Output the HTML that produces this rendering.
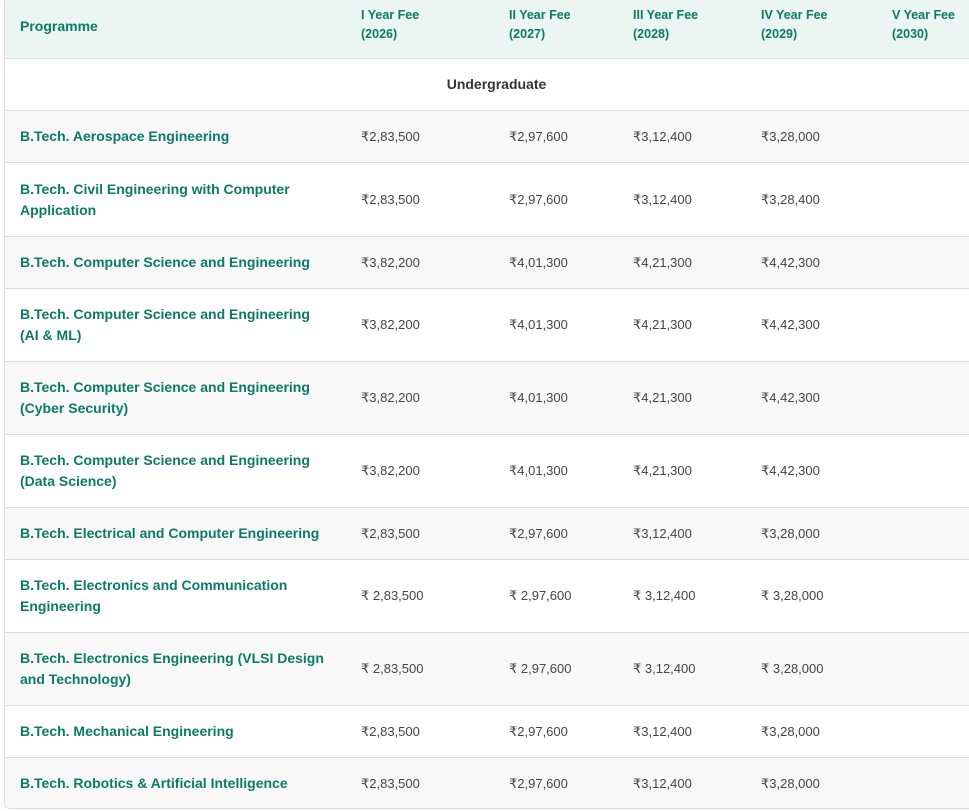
<!DOCTYPE html>
<html><head><meta charset="utf-8"><style>
*{box-sizing:border-box;margin:0;padding:0}
body{width:969px;height:811px;background:#fff;font-family:"Liberation Sans","DejaVu Sans",sans-serif;overflow:hidden;position:relative}
#tbl{position:absolute;left:4px;top:-3px;width:980px;height:812px;border:1px solid #ddd;border-radius:6px;overflow:hidden}
.row{position:absolute;left:0;width:100%;border-bottom:1px solid #dcdcdc}
.cell{position:absolute;top:0;height:100%;display:flex;align-items:center}
.prog{left:15px;width:312px;color:#0b7a68;font-weight:bold;font-size:14px;line-height:21px}
.val{color:#444;font-size:13px}
.hd{color:#0b7a68;font-weight:bold;font-size:12.5px;line-height:19px}
</style></head><body>
<div id="tbl"></div>
<script>
const headers=["Programme","I Year Fee<br>(2026)","II Year Fee<br>(2027)","III Year Fee<br>(2028)","IV Year Fee<br>(2029)","V Year Fee<br>(2030)"];
const programmes=["B.Tech. Aerospace Engineering","B.Tech. Civil Engineering with Computer Application","B.Tech. Computer Science and Engineering","B.Tech. Computer Science and Engineering (AI &amp; ML)","B.Tech. Computer Science and Engineering (Cyber Security)","B.Tech. Computer Science and Engineering (Data Science)","B.Tech. Electrical and Computer Engineering","B.Tech. Electronics and Communication Engineering","B.Tech. Electronics Engineering (VLSI Design and Technology)","B.Tech. Mechanical Engineering","B.Tech. Robotics &amp; Artificial Intelligence"];
const fees=[
["₹2,83,500","₹2,97,600","₹3,12,400","₹3,28,000"],
["₹2,83,500","₹2,97,600","₹3,12,400","₹3,28,400"],
["₹3,82,200","₹4,01,300","₹4,21,300","₹4,42,300"],
["₹3,82,200","₹4,01,300","₹4,21,300","₹4,42,300"],
["₹3,82,200","₹4,01,300","₹4,21,300","₹4,42,300"],
["₹3,82,200","₹4,01,300","₹4,21,300","₹4,42,300"],
["₹2,83,500","₹2,97,600","₹3,12,400","₹3,28,000"],
["₹ 2,83,500","₹ 2,97,600","₹ 3,12,400","₹ 3,28,000"],
["₹ 2,83,500","₹ 2,97,600","₹ 3,12,400","₹ 3,28,000"],
["₹2,83,500","₹2,97,600","₹3,12,400","₹3,28,000"],
["₹2,83,500","₹2,97,600","₹3,12,400","₹3,28,000"]];
const rowTops=[113,165,239,291,364,437,510,562,635,708,760];
const rowH=[52,74,52,73,73,73,52,73,73,52,52];
const colX=[15,356,504,628,756,887];
const T=document.getElementById('tbl');
let h=document.createElement('div');h.className='row';h.style.top='0';h.style.height='61px';h.style.background='#ebf5f1';


headers.forEach((t,i)=>{let c=document.createElement('div');c.className='cell hd';c.style.left=colX[i]+'px';c.style.fontSize=i==0?'14px':'12.5px';c.style.paddingBottom=i==0?'4px':'6px';c.innerHTML=t;


h.appendChild(c);});
T.appendChild(h);
let u=document.createElement('div');u.className='row';u.style.top='61px';u.style.height='52px';u.style.background='#fff';
u.innerHTML='<div class="cell" style="left:0;width:100%;justify-content:center;font-weight:bold;font-size:14px;color:#333;padding-left:5px;padding-bottom:2px">Undergraduate</div>';


T.appendChild(u);
programmes.forEach((p,r)=>{
 let row=document.createElement('div');row.className='row';row.style.top=rowTops[r]+'px';row.style.height=rowH[r]+'px';row.style.background=r%2==0?'#f8f8f8':'#fff';
 
 
 let c=document.createElement('div');c.className='cell prog';c.innerHTML=p;
 
 
 row.appendChild(c);
 fees[r].forEach((f,i)=>{let v=document.createElement('div');v.className='cell val';v.style.left=colX[i+1]+'px';v.textContent=f;
 
 
 row.appendChild(v);});
 T.appendChild(row);
});
</script>
</body></html>
